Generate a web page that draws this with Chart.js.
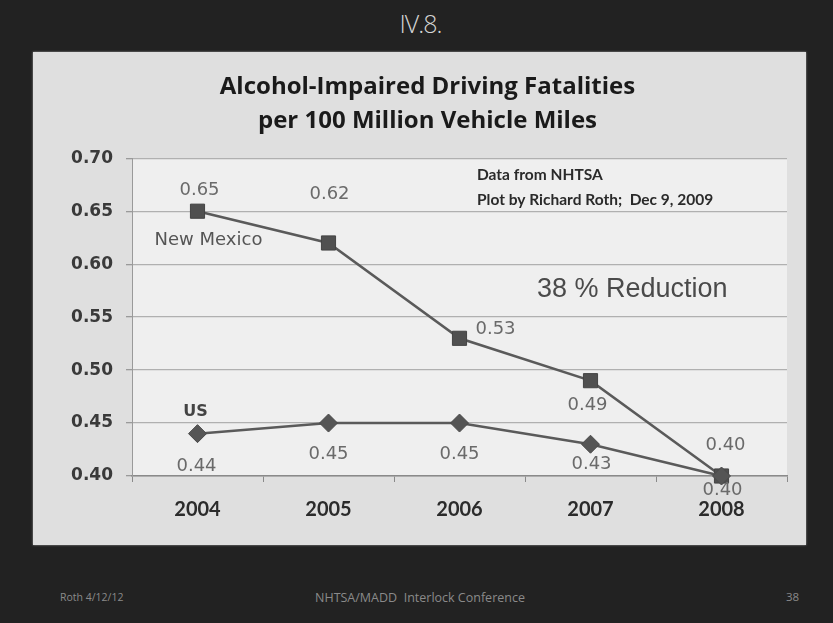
<!DOCTYPE html>
<html>
<head>
<meta charset="utf-8">
<script src="https://cdn.jsdelivr.net/npm/chart.js@4"></script>
<style>
  html, body { margin: 0; padding: 0; }
  body { width: 833px; height: 623px; background: #222222; position: relative; overflow: hidden; font-family: Lato, "Open Sans", sans-serif; }
  #slideTitle { position: absolute; left: 4px; width: 833px; top: 6px; text-align: center; color: #d4d4d4; font-family: "Open Sans", sans-serif; font-weight: 300; font-size: 25px; letter-spacing: -1px; }
  #panel { position: absolute; left: 33px; top: 52px; width: 773px; height: 493px; background: #dfdfdf; box-shadow: 0 0 2px #999; }
  #panel canvas { display: block; }
  .foot { position: absolute; top: 589px; color: #8a8a8a; font-family: "Open Sans", sans-serif; font-size: 11.5px; }
</style>
</head>
<body>
<div id="slideTitle">IV.8.</div>
<div id="panel"><canvas id="c" width="773" height="493"></canvas></div>
<div class="foot" style="left:60px; font-size:10.5px; top:590px;">Roth 4/12/12</div>
<div class="foot" style="left:315px; font-size:12.5px;">NHTSA/MADD&nbsp; Interlock Conference</div>
<div class="foot" style="left:786px;">38</div>
<script>
const years = ["2004", "2005", "2006", "2007", "2008"];
const newMexico = [0.65, 0.62, 0.53, 0.49, 0.40];
const us = [0.44, 0.45, 0.45, 0.43, 0.40];
const yTicks = [0.40, 0.45, 0.50, 0.55, 0.60, 0.65, 0.70];
const titleLines = ["Alcohol-Impaired Driving Fatalities", "per 100 Million Vehicle Miles"];
const sourceLines = ["Data from NHTSA", "Plot by Richard Roth;  Dec 9, 2009"];
const reductionText = "38 % Reduction";
const seriesNames = ["New Mexico", "US"];

// label placement offsets (style only): [dx, dy] in pixels from the point
const nmLabelOffsets = [[2, -21], [1, -49], [36, -9], [-3, 25], [4, -31]];
const usLabelOffsets = [[-1, 33], [0, 31], [0, 31], [1, 20], [1, 14]];

const panelBg = {
  id: 'panelBg',
  beforeDraw(chart) {
    const { ctx, chartArea: a } = chart;
    ctx.save();
    ctx.fillStyle = '#efefef';
    ctx.fillRect(a.left, a.top, a.right - a.left, a.bottom - a.top);
    ctx.restore();
  }
};

const labels = {
  id: 'labels',
  afterDatasetsDraw(chart) {
    const { ctx } = chart;
    ctx.save();
    ctx.textAlign = 'center';
    ctx.textBaseline = 'middle';
    ctx.font = '18px "DejaVu Sans", sans-serif';
    ctx.fillStyle = '#6a6a6a';
    const offs = [nmLabelOffsets, usLabelOffsets];
    chart.data.datasets.forEach((ds, di) => {
      const meta = chart.getDatasetMeta(di);
      meta.data.forEach((pt, i) => {
        const o = offs[di][i];
        ctx.fillText(ds.data[i].toFixed(2), pt.x + o[0], pt.y + o[1]);
      });
    });
    // series names
    const nm0 = chart.getDatasetMeta(0).data[0];
    const us0 = chart.getDatasetMeta(1).data[0];
    ctx.font = '18px "DejaVu Sans", sans-serif';
    ctx.fillStyle = '#555';
    ctx.fillText(seriesNames[0], nm0.x + 11, nm0.y + 29);
    ctx.font = 'bold 16px "DejaVu Sans", sans-serif';
    ctx.fillStyle = '#444';
    ctx.fillText(seriesNames[1], us0.x - 2, us0.y - 22);
    // source note
    const a = chart.chartArea;
    ctx.textAlign = 'left';
    ctx.font = 'bold 15.5px Lato, sans-serif';
    ctx.fillStyle = '#2a2a2a';
    ctx.fillText(sourceLines[0], a.left + 345, a.top + 17);
    ctx.fillText(sourceLines[1], a.left + 345, a.top + 42);
    // reduction
    ctx.font = '27px "Liberation Sans", Arial, sans-serif';
    ctx.fillStyle = '#4a4a4a';
    ctx.fillText(reductionText, a.left + 405, a.top + 131);
    ctx.restore();
  }
};

new Chart(document.getElementById('c'), {
  type: 'line',
  data: {
    labels: years,
    datasets: [
      { label: seriesNames[0], data: newMexico, order: 2, borderColor: '#5a5a5a', borderWidth: 2.5, clip: false,
        pointStyle: 'rect', pointRadius: 10, pointBackgroundColor: '#505050', pointBorderColor: '#444', pointBorderWidth: 1 },
      { label: seriesNames[1], data: us, order: 1, borderColor: '#5a5a5a', borderWidth: 2.5, clip: false,
        pointStyle: 'rectRot', pointRadius: 9, pointBackgroundColor: '#555', pointBorderColor: '#4a4a4a', pointBorderWidth: 1 }
    ]
  },
  options: {
    responsive: false,
    animation: false,
    layout: { padding: { left: 35, right: 19, top: 0, bottom: 0 } },
    plugins: {
      legend: { display: false },
      tooltip: { enabled: false },
      title: {
        display: true, text: titleLines, color: '#1a1a1a',
        font: { family: '"Open Sans", sans-serif', size: 24, weight: 'bold', lineHeight: 1.38 },
        padding: { top: 19, bottom: 21 }
      }
    },
    scales: {
      x: {
        offset: true,
        afterFit(s) { s.height = 69; },
        grid: { offset: true, drawOnChartArea: false, color: '#8a8a8a', tickLength: 6, tickColor: '#8a8a8a' },
        border: { color: '#8a8a8a', width: 1.5 },
        ticks: { color: '#2b2b2b', font: { family: 'Lato, sans-serif', size: 20, weight: 'bold' }, padding: 16 }
      },
      y: {
        min: 0.40, max: 0.70,
        afterFit(s) { s.width = 64; },
        afterBuildTicks(s) { s.ticks = yTicks.map(v => ({ value: v })); },
        grid: { color: '#b0b0b0', lineWidth: 1.3, tickLength: 6, tickColor: '#9a9a9a' },
        border: { color: '#9a9a9a' },
        ticks: { color: '#3a3a3a', font: { family: '"DejaVu Sans", sans-serif', size: 17, weight: 'bold' }, padding: 13,
          callback: v => Number(v).toFixed(2) }
      }
    }
  },
  plugins: [panelBg, labels]
});
</script>
</body>
</html>
